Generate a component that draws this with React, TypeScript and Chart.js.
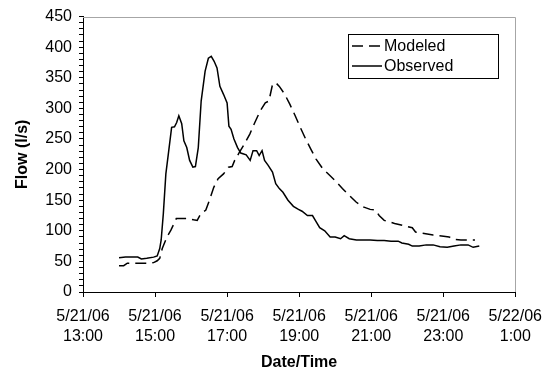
import React, { useEffect, useRef } from "react";
import { Chart, registerables } from "chart.js";

Chart.register(...registerables);

// Decimal hours of 5/21/06 (25 = 1:00 on 5/22/06)
const modeledHours = [
  14.0, 14.13, 14.23, 14.38, 14.57, 14.77, 14.96, 15.06, 15.13, 15.2,
  15.33, 15.44, 15.59, 15.74, 15.93, 16.07, 16.17, 16.27, 16.41, 16.51,
  16.63, 16.75, 16.9, 17.04, 17.14, 17.21, 17.34, 17.48, 17.63, 17.77,
  17.92, 18.06, 18.16, 18.26, 18.35, 18.45, 18.6, 18.74, 18.89, 19.03,
  19.18, 19.32, 19.47, 19.66, 19.86, 20.0, 20.2, 20.39, 20.58, 20.78,
  20.97, 21.12, 21.22, 21.36, 21.65, 21.94, 22.14, 22.23, 22.43, 22.72,
  23.01, 23.16, 23.3, 23.49, 23.69, 23.88,
];
const modeledFlow = [
  43, 43, 47, 47, 47, 47, 48, 51, 55, 71,
  90, 101, 120, 120, 120, 118, 117, 128, 134, 150,
  171, 185, 193, 204, 205, 215, 228, 242, 258, 277,
  296, 309, 312, 339, 342, 336, 323, 307, 288, 269,
  250, 234, 217, 201, 190, 182, 169, 158, 147, 139,
  135, 134, 125, 117, 112, 108, 105, 98, 96, 93,
  91, 90, 86, 85, 85, 85,
];

const observedHours = [
  14.0, 14.18, 14.38, 14.52, 14.62, 14.77, 14.96, 15.06, 15.13, 15.17,
  15.23, 15.3, 15.37, 15.46, 15.54, 15.6, 15.66, 15.74, 15.8, 15.88,
  15.96, 16.05, 16.12, 16.2, 16.28, 16.39, 16.48, 16.56, 16.64, 16.72,
  16.8, 16.9, 17.0, 17.05, 17.11, 17.19, 17.29, 17.38, 17.53, 17.64,
  17.72, 17.82, 17.89, 17.97, 18.04, 18.14, 18.26, 18.35, 18.45, 18.55,
  18.69, 18.84, 18.98, 19.08, 19.23, 19.37, 19.47, 19.57, 19.71, 19.86,
  20.0, 20.15, 20.25, 20.39, 20.59, 20.78, 20.97, 21.17, 21.36, 21.55,
  21.75, 21.85, 22.04, 22.14, 22.33, 22.53, 22.72, 22.91, 23.11, 23.3,
  23.49, 23.69, 23.83, 24.0,
];
const observedFlow = [
  56, 57, 57, 57, 54, 55, 57, 59, 71, 85,
  128, 193, 226, 269, 270, 277, 288, 275, 247, 236,
  215, 204, 205, 236, 312, 361, 382, 385, 377, 366,
  336, 323, 309, 271, 266, 250, 236, 227, 224, 215,
  231, 231, 223, 231, 215, 207, 196, 177, 169, 163,
  150, 140, 135, 132, 125, 125, 115, 105, 100, 90,
  90, 87, 92, 87, 85, 85, 85, 84, 84, 83,
  83, 80, 78, 75, 75, 77, 77, 74, 73, 75,
  77, 77, 73, 75,
];

const xTickHours = [13, 15, 17, 19, 21, 23, 25];
const seriesNames = ["Modeled", "Observed"];
const yAxisTitle = "Flow (l/s)";
const xAxisTitle = "Date/Time";

const FONT = "'Liberation Sans', Arial, sans-serif";

function tickLabel(h: number): string[] {
  const date = h >= 24 ? "5/22/06" : "5/21/06";
  return [date, `${h % 24}:00`];
}

const framePlugin = {
  id: "frame",
  afterDraw(chart: any) {
    const { ctx, chartArea } = chart;
    ctx.save();
    ctx.strokeStyle = "#a6a6a6";
    ctx.lineWidth = 1;
    ctx.beginPath();
    ctx.moveTo(chartArea.left, Math.round(chartArea.top) + 0.5);
    ctx.lineTo(Math.round(chartArea.right) + 0.5, Math.round(chartArea.top) + 0.5);
    ctx.lineTo(Math.round(chartArea.right) + 0.5, chartArea.bottom);
    ctx.stroke();
    ctx.restore();
  },
};

const boxLegendPlugin = {
  id: "boxLegend",
  afterDraw(chart: any) {
    const { ctx, chartArea } = chart;
    const w = 150;
    const h = 44;
    const right = Math.round(chartArea.right) - 17;
    const left = right - w;
    const top = Math.round(chartArea.top) + 17;
    ctx.save();
    ctx.fillStyle = "#fff";
    ctx.fillRect(left, top, w, h);
    ctx.strokeStyle = "#000";
    ctx.lineWidth = 1;
    ctx.strokeRect(left + 0.5, top + 0.5, w, h);
    ctx.font = `16px ${FONT}`;
    ctx.textBaseline = "middle";
    ctx.textAlign = "left";
    chart.data.datasets.forEach((ds: any, i: number) => {
      const y = top + 12 + i * 20;
      ctx.beginPath();
      ctx.strokeStyle = ds.borderColor;
      ctx.lineWidth = ds.borderWidth;
      ctx.setLineDash(ds.borderDash || []);
      ctx.moveTo(left + 4, y);
      ctx.lineTo(left + 34, y);
      ctx.stroke();
      ctx.setLineDash([]);
      ctx.fillStyle = "#000";
      ctx.fillText(ds.label, left + 36, y + 1);
    });
    ctx.restore();
  },
};

export default function App() {
  const canvasRef = useRef<HTMLCanvasElement | null>(null);

  useEffect(() => {
    if (!canvasRef.current) return;
    const chart = new Chart(canvasRef.current, {
      type: "line",
      data: {
        datasets: [
          {
            label: seriesNames[0],
            data: modeledHours.map((x, i) => ({ x, y: modeledFlow[i] })),
            borderColor: "#000",
            borderWidth: 1.5,
            borderDash: [11, 6],
            pointRadius: 0,
            tension: 0,
            fill: false,
          },
          {
            label: seriesNames[1],
            data: observedHours.map((x, i) => ({ x, y: observedFlow[i] })),
            borderColor: "#000",
            borderWidth: 1.5,
            pointRadius: 0,
            tension: 0,
            fill: false,
          },
        ],
      },
      options: {
        animation: false,
        responsive: false,
        devicePixelRatio: 1,
        layout: { padding: { left: 13, top: 15, right: 33, bottom: 0 } },
        plugins: {
          legend: { display: false },
          tooltip: { enabled: false },
        },
        scales: {
          x: {
            type: "linear",
            min: 13,
            max: 25,
            afterBuildTicks: (scale: any) => {
              scale.ticks = xTickHours.map((v) => ({ value: v }));
            },
            afterFit: (scale: any) => {
              scale.height = 80;
            },
            ticks: {
              autoSkip: false,
              maxRotation: 0,
              minRotation: 0,
              padding: 10,
              color: "#000",
              font: { family: FONT, size: 16, lineHeight: 1.25 },
              callback: (v: any) => tickLabel(Number(v)),
            },
            grid: {
              display: true,
              drawOnChartArea: false,
              drawTicks: true,
              tickLength: 5,
              color: "#000",
            },
            border: { display: true, color: "#000", width: 1 },
            title: {
              display: true,
              text: xAxisTitle,
              color: "#000",
              font: { family: FONT, size: 16, weight: "bold" },
              padding: { top: 0, bottom: 0 },
            },
          },
          y: {
            min: 0,
            max: 450,
            afterFit: (scale: any) => {
              scale.width = 70;
            },
            ticks: {
              stepSize: 10,
              autoSkip: false,
              padding: 7,
              color: "#000",
              font: { family: FONT, size: 16 },
              callback: (v: any) => (Number(v) % 50 === 0 ? String(v) : ""),
            },
            grid: {
              display: true,
              drawOnChartArea: false,
              drawTicks: true,
              tickLength: 4,
              color: "#000",
            },
            border: { display: true, color: "#000", width: 1 },
            title: {
              display: true,
              text: yAxisTitle,
              color: "#000",
              font: { family: FONT, size: 16, weight: "bold" },
              padding: { top: 0, bottom: 0 },
            },
          },
        },
      },
      plugins: [framePlugin, boxLegendPlugin],
    } as any);
    return () => chart.destroy();
  }, []);

  return (
    <div style={{ position: "absolute", left: 0, top: 0, width: 552, height: 372, background: "#fff" }}>
      <canvas ref={canvasRef} width={552} height={372} style={{ display: "block" }} />
    </div>
  );
}
